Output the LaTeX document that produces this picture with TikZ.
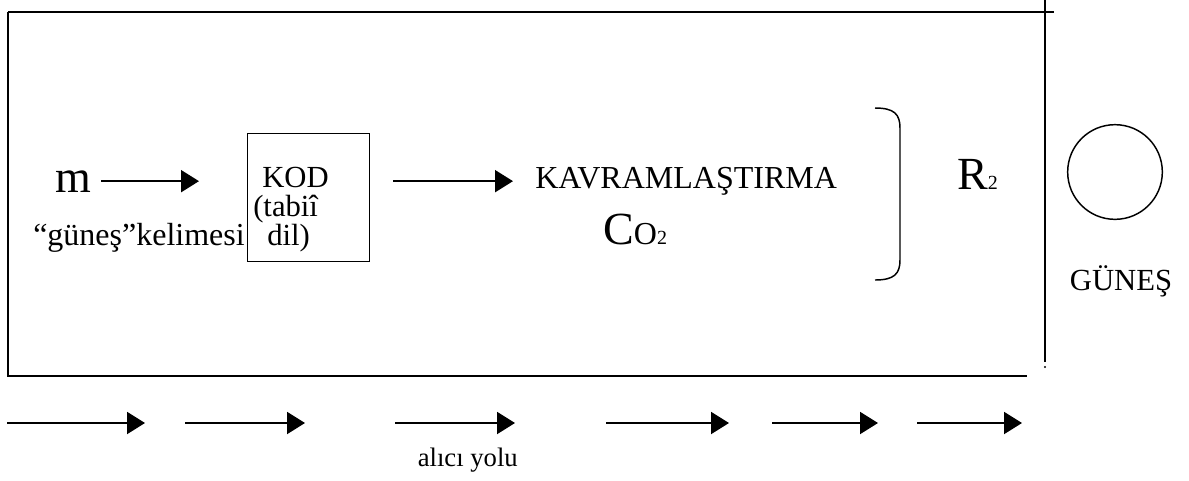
\documentclass[tikz,border=0pt]{standalone}
\usepackage{fontspec}
\setmainfont{Liberation Serif}
\usetikzlibrary{arrows.meta}
\begin{document}
\begin{tikzpicture}[x=0.75pt,y=-0.75pt,
  frame/.style={line width=1.5pt},
  arr/.style={line width=1.5pt,-{Triangle[length=13.5pt,width=16.5pt]}},
  lbl/.style={inner sep=0pt,font=\fontsize{24}{28}\selectfont},
  big/.style={inner sep=0pt,font=\fontsize{34.5}{40}\selectfont},
]
\useasboundingbox (0,0) rectangle (1189,480);

% open outer frame
\draw[frame] (8,12) -- (1054,12);
\draw[frame] (8,12) -- (8,376) -- (1027,376);
\draw[frame] (1045,0) -- (1045,362);
\fill (1045,367) circle (0.9pt);

% message and its code
\node[big,anchor=base west] (m) at (55,192) {m};
\node[lbl,anchor=base west] (word) at (33,245) {“güneş”kelimesi};
\node[draw,line width=1.1pt,minimum width=91.5pt,minimum height=96pt,
      inner sep=0pt,anchor=north west] (kod) at (247,133) {};
% multi-line node: its base is the baseline of the last line
\node[inner sep=0pt,font=\fontsize{23}{21.75}\selectfont,align=left,anchor=base west]
  (kodtext) at (253,245) {\hspace*{6.75pt}KOD\\(tabiî\\\hspace*{10.5pt}dil)};

% conceptualisation
\node[lbl,anchor=base west] (kav) at (535,188) {KAVRAMLAŞTIRMA};
\node[inner sep=0pt,anchor=base west] (co) at (603,244)
  {{\fontsize{34.5}{40}\selectfont C}{\fontsize{24}{28}\selectfont O}{\fontsize{15}{18}\selectfont 2}};

\draw[arr,shorten <=7.5pt,shorten >=36pt] (m.east) -- (m.east -| kod.west);
\draw[arr,shorten <=17pt,shorten >=16.5pt] (kod.east |- m.east) -- (kav.west |- m.east);

% closing bracket
\draw[line width=1.1pt] (875,108) .. controls (894,108) and (900,114) .. (900,128)
  -- (900,260) .. controls (900,274) and (894,280) .. (875,280);

\node[inner sep=0pt,anchor=base west] (r2) at (957,189)
  {{\fontsize{34.5}{40}\selectfont R}{\fontsize{15}{18}\selectfont 2}};

% the object itself
\node[circle,draw,line width=1.1pt,minimum size=71pt,inner sep=0pt] (sun) at (1115,172) {};
\node[inner sep=0pt,font=\fontsize{23}{27}\selectfont,anchor=base] (gunes) at (1121,290) {GÜNEŞ};

% receiver path
\coordinate (p1s) at (7,423);   \coordinate (p1e) at (145,423);
\coordinate (p2s) at (185,423); \coordinate (p2e) at (305,423);
\coordinate (p3s) at (395,423); \coordinate (p3e) at (515,423);
\coordinate (p4s) at (606,423); \coordinate (p4e) at (729,423);
\coordinate (p5s) at (772,423); \coordinate (p5e) at (878,423);
\coordinate (p6s) at (917,423); \coordinate (p6e) at (1022,423);
\foreach \i in {1,...,6} \draw[arr] (p\i s) -- (p\i e);
\node[inner sep=0pt,font=\fontsize{20}{24}\selectfont,anchor=base east] (path) at (518,466) {alıcı yolu};
\end{tikzpicture}
\end{document}
